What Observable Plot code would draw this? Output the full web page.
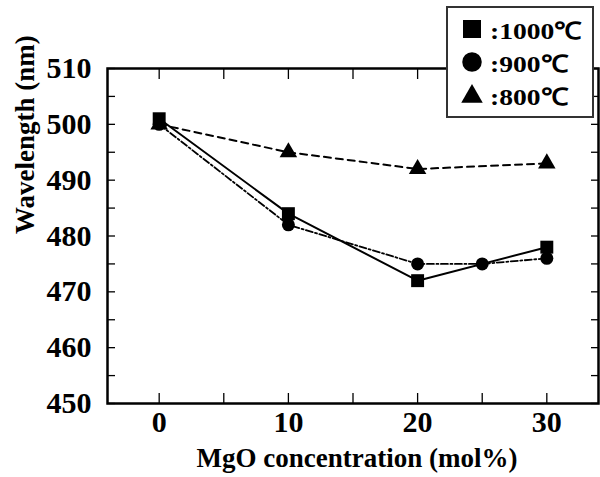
<!DOCTYPE html>
<html>
<head>
<meta charset="utf-8">
<script src="https://cdn.jsdelivr.net/npm/d3@7"></script>
<script src="https://cdn.jsdelivr.net/npm/@observablehq/plot@0.6"></script>
<style>
  html, body { margin: 0; padding: 0; background: #fff; }
  #wrap { position: relative; width: 600px; height: 477px; overflow: hidden; }
  #legend { position: absolute; left: 446px; top: 6px; }
</style>
</head>
<body>
<div id="wrap"></div>
<script>
// ---- data ----
const temps = ["1000℃", "900℃", "800℃"];
const symbols = ["square", "circle", "triangle"];
const mgo1000 = [0, 10, 20, 30];
const wl1000 = [501, 484, 472, 478];
const mgo900 = [0, 10, 20, 25, 30];
const wl900 = [500, 482, 475, 475, 476];
const mgo800 = [0, 10, 20, 30];
const wl800 = [500, 495, 492, 493];
const xTickLabels = [0, 10, 20, 30];
const yTickLabels = [450, 460, 470, 480, 490, 500, 510];
const xMinorTicks = [0, 5, 10, 15, 20, 25, 30];
const yMinorTicks = [450, 455, 460, 465, 470, 475, 480, 485, 490, 495, 500, 505, 510];

const s1000 = mgo1000.map((x, i) => ({x, y: wl1000[i], t: temps[0]}));
const s900 = mgo900.map((x, i) => ({x, y: wl900[i], t: temps[1]}));
const s800 = mgo800.map((x, i) => ({x, y: wl800[i], t: temps[2]}));

const font = "Liberation Serif, Times New Roman, serif";

const chart = Plot.plot({
  width: 600,
  height: 477,
  marginLeft: 107,
  marginRight: 2,
  marginTop: 68,
  marginBottom: 74,
  style: {fontFamily: font, fontWeight: "bold", color: "#000", background: "#fff"},
  x: {domain: [-4, 34]},
  y: {domain: [450, 510]},
  marks: [
    // inward ticks on all sides
    Plot.axisX(xMinorTicks, {anchor: "bottom", tickSize: -10, tickFormat: () => "", label: null, strokeWidth: 1.3}),
    Plot.axisX(xMinorTicks, {anchor: "top", tickSize: -10, tickFormat: () => "", label: null, strokeWidth: 1.3}),
    Plot.axisY(yMinorTicks, {anchor: "left", tickSize: -8, tickFormat: () => "", label: null, strokeWidth: 1.3}),
    Plot.axisY(yMinorTicks, {anchor: "right", tickSize: -8, tickFormat: () => "", label: null, strokeWidth: 1.3}),
    // tick labels
    Plot.axisX(xTickLabels, {anchor: "bottom", tickSize: 0, tickPadding: 7, label: null, fontSize: 30, fontWeight: "bold", fontFamily: font}),
    Plot.axisY(yTickLabels, {anchor: "left", tickSize: 0, tickPadding: 16, label: null, fontSize: 30, fontWeight: "bold", fontFamily: font}),
    // axis titles
    Plot.text(["Wavelength (nm)"], {frameAnchor: "left", dx: -82.5, dy: -2, rotate: -90, fontSize: 27, fontWeight: "bold", fontFamily: font, fill: "#000"}),
    Plot.text(["MgO concentration (mol%)"], {frameAnchor: "bottom", dx: 4, dy: 63, fontSize: 27, fontWeight: "bold", fontFamily: font, fill: "#000"}),
    Plot.frame({stroke: "#000", strokeWidth: 2.5}),
    // lines
    Plot.line(s800, {x: "x", y: "y", stroke: "#000", strokeWidth: 2, strokeDasharray: "7,5"}),
    Plot.line(s900, {x: "x", y: "y", stroke: "#000", strokeWidth: 1.8, strokeDasharray: "7,2.5,2,2.5"}),
    Plot.line(s1000, {x: "x", y: "y", stroke: "#000", strokeWidth: 2}),
    // markers
    Plot.dot(s800, {x: "x", y: "y", symbol: "triangle", r: 6.5, fill: "#000", stroke: "none"}),
    Plot.dot(s900, {x: "x", y: "y", symbol: "circle", r: 6.5, fill: "#000", stroke: "none"}),
    Plot.dot(s1000, {x: "x", y: "y", symbol: "square", r: 7.3, fill: "#000", stroke: "none"})
  ]
});

const wrap = document.getElementById("wrap");
wrap.appendChild(chart);

// legend (overlay box at top right, over the frame)
const W = 150, H = 113;
const lg = d3.create("svg").attr("id", "legend").attr("width", W).attr("height", H)
  .attr("font-family", font).attr("font-weight", "bold");
lg.append("rect").attr("x", 1).attr("y", 1).attr("width", W - 4).attr("height", H - 3)
  .attr("fill", "#fff").attr("stroke", "#333").attr("stroke-width", 2);
const symMap = {square: d3.symbolSquare, circle: d3.symbolCircle, triangle: d3.symbolTriangle};
const symSize = {square: 324, circle: 300, triangle: 200};
const rowY = d3.scalePoint().domain(temps).range([23, 89]);
temps.forEach((t, i) => {
  const cy = rowY(t);
  lg.append("path").attr("d", d3.symbol(symMap[symbols[i]], symSize[symbols[i]])())
    .attr("transform", `translate(26,${cy + (symbols[i] === "triangle" ? 1.5 : 0)})`).attr("fill", "#000");
  lg.append("text").attr("transform", `translate(44,${cy + 9.5}) scale(1.15,1)`)
    .attr("font-size", 24).attr("fill", "#000").text(":" + t);
});
wrap.appendChild(lg.node());
</script>
</body>
</html>
